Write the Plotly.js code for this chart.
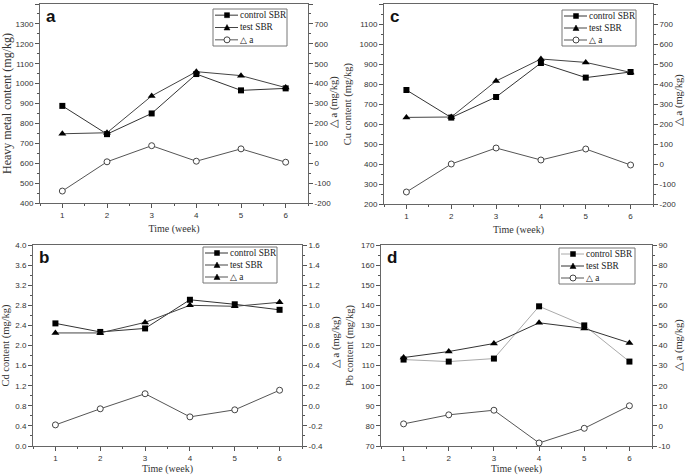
<!DOCTYPE html>
<html>
<head>
<meta charset="utf-8">
<script src="https://cdn.plot.ly/plotly-3.0.1.min.js"></script>
<style>html,body{margin:0;padding:0;background:#fff;}#chart{width:685px;height:475px;}</style>
</head>
<body>
<div id="chart"></div>
<script>
// ---- data ----
const weeks = [1, 2, 3, 4, 5, 6];
const seriesNames = ['control SBR', 'test SBR', '\u25B3 a'];

// panel a: heavy metal content
const controlA = [888, 746, 850, 1048, 966, 976];
const testA = [748, 753, 938, 1060, 1040, 980];
const deltaA = [-140, 7, 88, 10, 72, 5];

// panel c: Cu content
const controlC = [770, 632, 735, 905, 832, 860];
const testC = [633, 635, 815, 925, 908, 858];
const deltaC = [-140, 0, 80, 20, 75, -5];

// panel b: Cd content
const controlB = [2.44, 2.27, 2.34, 2.91, 2.82, 2.71];
const testB = [2.25, 2.25, 2.46, 2.80, 2.78, 2.86];
const deltaB = [-0.19, -0.03, 0.12, -0.11, -0.04, 0.155];

// panel d: Pb content
const controlD = [113, 112, 113.5, 139.5, 130, 112];
const testD = [114, 117, 121, 131.3, 128.5, 121.3];
const deltaD = [1, 5.5, 7.8, -8.5, -1.2, 10];

// right-axis tick values / labels
const rightTicksAC = [-200, -100, 0, 100, 200, 300, 400, 500, 600, 700, 800];
const rightLabelsAC = ['-200', '-100', '0', '100', '200', '300', '400', '500', '600', '700', '800'];
const rightTicksB = [-0.4, -0.2, 0, 0.2, 0.4, 0.6, 0.8, 1.0, 1.2, 1.4, 1.6];
const rightLabelsB = ['-0.4', '-0.2', '0.0', '0.2', '0.4', '0.6', '0.8', '1.0', '1.2', '1.4', '1.6'];
const rightTicksD = [-10, 0, 10, 20, 30, 40, 50, 60, 70, 80, 90];
const rightLabelsD = ['-10', '0', '10', '20', '30', '40', '50', '60', '70', '80', '90'];

const panelLetters = ['a', 'c', 'b', 'd'];
const leftTitles = ['Heavy metal content (mg/kg)', 'Cu content (mg/kg)', 'Cd content (mg/kg)', 'Pb content (mg/kg)'];
const rightTitle = '\u25B3 a (mg/kg)';
const xTitle = 'Time (week)';

// ---- styling ----
const SANS = 'Liberation Sans, Arial, sans-serif';
const SERIF = 'Liberation Serif, Times New Roman, serif';
const W = 685, H = 475;

const panels = [
  {control: controlA, test: testA, delta: deltaA, leftRange: [400, 1400], leftDtick: 100, leftMinor: 50,
   rightRange: [-200, 800], rightVals: rightTicksAC, rightText: rightLabelsAC, rightMinor: 50,
   px: [40, 308], py: [4, 203], leg: [213, 287, 9, 46], rt: [334, 102],
   controlColor: '#333', testColor: '#444', deltaLegendSymbol: 'circle', leftTitleSize: 12, tickfmt: ''},
  {control: controlC, test: testC, delta: deltaC, leftRange: [200, 1200], leftDtick: 100, leftMinor: 50,
   rightRange: [-200, 800], rightVals: rightTicksAC, rightText: rightLabelsAC, rightMinor: 50,
   px: [384, 653], py: [4, 204], leg: [562, 636, 10, 46], rt: [679, 100],
   controlColor: '#333', testColor: '#444', deltaLegendSymbol: 'circle', leftTitleSize: 10.5, tickfmt: ''},
  {control: controlB, test: testB, delta: deltaB, leftRange: [0, 4.0], leftDtick: 0.4, leftMinor: 0.2,
   rightRange: [-0.4, 1.6], rightVals: rightTicksB, rightText: rightLabelsB, rightMinor: 0.1,
   px: [33, 302], py: [245, 446], leg: [203, 277, 247, 283], rt: [336, 342],
   controlColor: '#333', testColor: '#444', deltaLegendSymbol: 'triangle', leftTitleSize: 10.5, tickfmt: '.1f'},
  {control: controlD, test: testD, delta: deltaD, leftRange: [70, 170], leftDtick: 10, leftMinor: 5,
   rightRange: [-10, 90], rightVals: rightTicksD, rightText: rightLabelsD, rightMinor: 5,
   px: [381, 652], py: [245, 446], leg: [559, 635, 248, 284], rt: [679, 345],
   controlColor: '#aaa', testColor: '#333', deltaLegendSymbol: 'circle', leftTitleSize: 10.5, tickfmt: ''}
];

const data = [];
const layout = {
  width: W, height: H,
  margin: {l: 0, r: 0, t: 0, b: 0},
  paper_bgcolor: '#fff', plot_bgcolor: '#fff',
  font: {family: SANS, size: 8, color: '#333'},
  annotations: [],
  shapes: [],
  showlegend: false
};

const px2x = v => v / W;
const px2y = v => 1 - v / H;

function addLegend(p) {
  const [L, R, T, B] = p.leg;
  layout.shapes.push({type: 'rect', xref: 'paper', yref: 'paper',
    x0: px2x(L), x1: px2x(R), y0: px2y(B), y1: px2y(T),
    line: {color: '#777', width: 1}, fillcolor: '#fff', layer: 'above'});
  const rowH = (B - T) / 3;
  const symbols = ['square', 'triangle', p.deltaLegendSymbol];
  const lineColors = [p.controlColor, p.testColor, '#555'];
  for (let k = 0; k < 3; k++) {
    const cy = T + rowH * (k + 0.5);
    const cx = L + 14;
    layout.shapes.push({type: 'line', xref: 'paper', yref: 'paper',
      x0: px2x(L + 2), x1: px2x(L + 25), y0: px2y(cy), y1: px2y(cy),
      line: {color: lineColors[k], width: 1}, layer: 'above'});
    const s = symbols[k];
    if (s === 'square') {
      layout.shapes.push({type: 'rect', xref: 'paper', yref: 'paper',
        x0: px2x(cx - 2.5), x1: px2x(cx + 2.5), y0: px2y(cy + 2.5), y1: px2y(cy - 2.5),
        line: {color: '#000', width: 0.5}, fillcolor: '#000', layer: 'above'});
    } else if (s === 'triangle') {
      const path = 'M' + px2x(cx - 3) + ',' + px2y(cy + 2.5) + ' L' + px2x(cx + 3) + ',' + px2y(cy + 2.5) +
                   ' L' + px2x(cx) + ',' + px2y(cy - 3) + ' Z';
      layout.shapes.push({type: 'path', xref: 'paper', yref: 'paper', path: path,
        line: {color: '#000', width: 0.5}, fillcolor: '#000', layer: 'above'});
    } else {
      layout.shapes.push({type: 'circle', xref: 'paper', yref: 'paper',
        x0: px2x(cx - 3), x1: px2x(cx + 3), y0: px2y(cy + 3), y1: px2y(cy - 3),
        line: {color: '#444', width: 1}, fillcolor: '#fff', layer: 'above'});
    }
    layout.annotations.push({text: seriesNames[k], xref: 'paper', yref: 'paper',
      x: px2x(L + 25), y: px2y(cy), xanchor: 'left', yanchor: 'middle', showarrow: false,
      font: {family: SERIF, size: 9.3, color: '#222'}});
  }
}

panels.forEach((p, i) => {
  const n = i + 1;
  const xa = 'x' + (n === 1 ? '' : n);
  const yl = 'y' + (2 * n - 1 === 1 ? '' : (2 * n - 1));
  const yr = 'y' + (2 * n);

  data.push({
    x: weeks, y: p.control, xaxis: xa, yaxis: yl, type: 'scatter', mode: 'lines+markers',
    name: seriesNames[0],
    line: {color: p.controlColor, width: 1},
    marker: {symbol: 'square', size: 6, color: '#000'}
  });
  data.push({
    x: weeks, y: p.test, xaxis: xa, yaxis: yl, type: 'scatter', mode: 'lines+markers',
    name: seriesNames[1],
    line: {color: p.testColor, width: 1},
    marker: {symbol: 'triangle-up', size: 7, color: '#000'}
  });
  data.push({
    x: weeks, y: p.delta, xaxis: xa, yaxis: yr, type: 'scatter', mode: 'lines+markers',
    name: seriesNames[2],
    line: {color: '#555', width: 1},
    marker: {symbol: 'circle', size: 6, color: '#fff', line: {color: '#444', width: 1}}
  });

  const xdom = [px2x(p.px[0]), px2x(p.px[1])];
  const ydom = [px2y(p.py[1]), px2y(p.py[0])];

  layout['xaxis' + (n === 1 ? '' : n)] = {
    domain: xdom, anchor: yl, range: [0.5, 6.5], dtick: 1, tick0: 0,
    showgrid: false, zeroline: false, showline: true, linecolor: '#666', linewidth: 1, mirror: true,
    ticks: 'outside', ticklen: 4, tickcolor: '#555',
    minor: {dtick: 0.5, ticks: 'outside', ticklen: 2, tickcolor: '#555', showgrid: false},
    tickfont: {family: SANS, size: 8, color: '#333'},
    title: {text: xTitle, font: {family: SERIF, size: 10, color: '#333'}, standoff: 6}
  };
  layout['yaxis' + (2 * n - 1 === 1 ? '' : (2 * n - 1))] = {
    domain: ydom, anchor: xa, range: p.leftRange, dtick: p.leftDtick, tick0: 0,
    tickformat: p.tickfmt,
    showgrid: false, zeroline: false, showline: true, linecolor: '#666', linewidth: 1,
    ticks: 'outside', ticklen: 4, tickcolor: '#555',
    minor: {dtick: p.leftMinor, ticks: 'outside', ticklen: 2, tickcolor: '#555', showgrid: false},
    tickfont: {family: SANS, size: 8, color: '#333'},
    title: {text: leftTitles[i], font: {family: SERIF, size: p.leftTitleSize, color: '#333'}, standoff: 5}
  };
  layout['yaxis' + (2 * n)] = {
    domain: ydom, anchor: xa, overlaying: yl, side: 'right', range: p.rightRange,
    tickmode: 'array', tickvals: p.rightVals, ticktext: p.rightText,
    showgrid: false, zeroline: false, showline: true, linecolor: '#666', linewidth: 1,
    ticks: 'outside', ticklen: 4, tickcolor: '#555',
    minor: {dtick: p.rightMinor, ticks: 'outside', ticklen: 2, tickcolor: '#555', showgrid: false},
    tickfont: {family: SANS, size: 8, color: '#333'}
  };
  // right axis title
  layout.annotations.push({
    text: rightTitle, xref: 'paper', yref: 'paper', x: px2x(p.rt[0]), y: px2y(p.rt[1]),
    xanchor: 'center', yanchor: 'middle', textangle: -90, showarrow: false,
    font: {family: SERIF, size: 10.5, color: '#333'}
  });
  layout.annotations.push({
    text: '<b>' + panelLetters[i] + '</b>', xref: xa + ' domain', yref: yl + ' domain',
    x: 0.015, y: 0.995, xanchor: 'left', yanchor: 'top', showarrow: false,
    font: {family: SANS, size: 17, color: '#111'}
  });
  addLegend(p);
});

Plotly.newPlot('chart', data, layout, {staticPlot: true, displayModeBar: false});
</script>
</body>
</html>
